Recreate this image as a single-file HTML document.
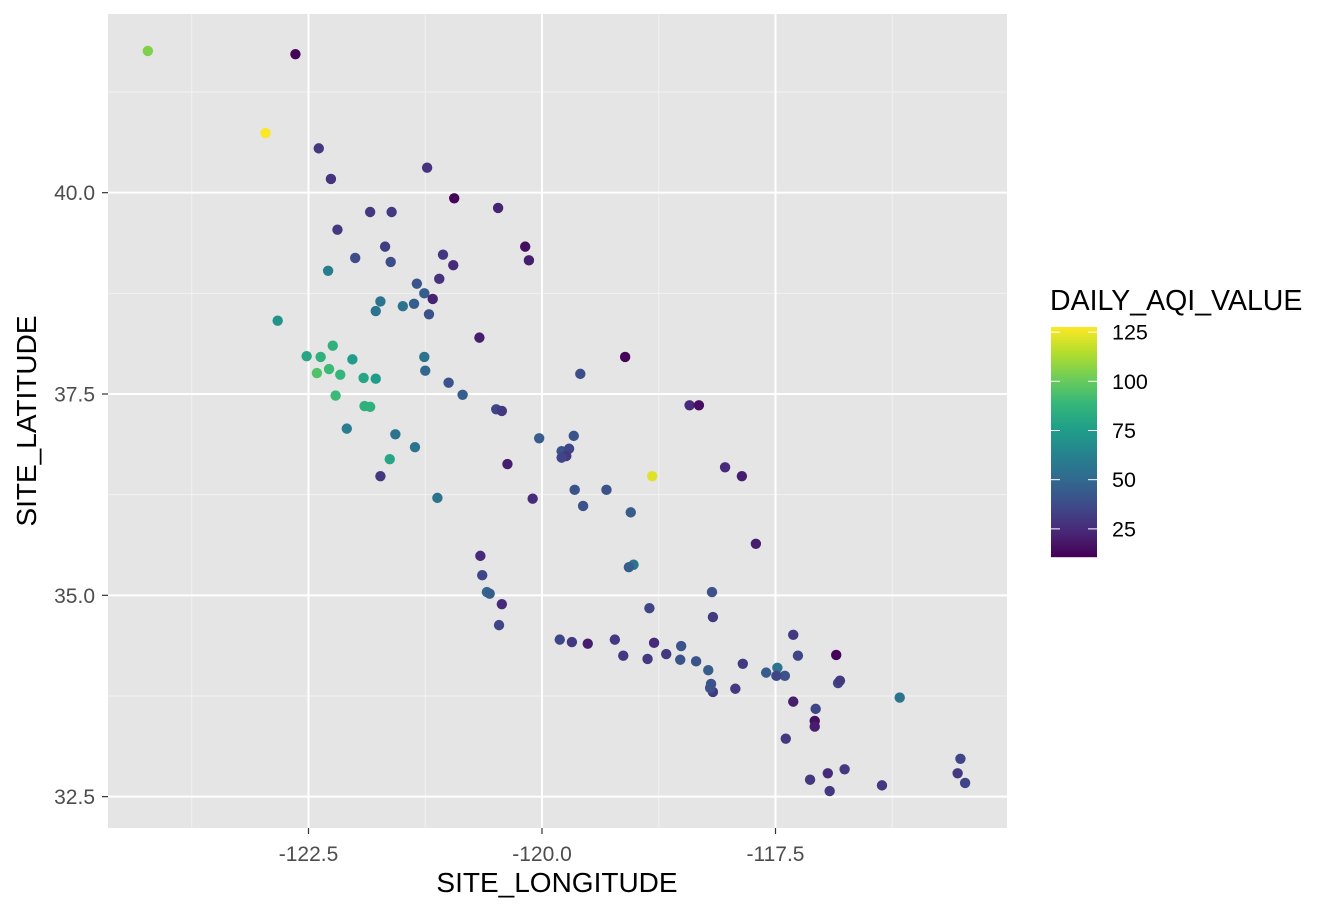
<!DOCTYPE html>
<html><head><meta charset="utf-8"><style>
body{margin:0;background:#fff;}
svg text{font-family:"Liberation Sans",Arial,sans-serif;}
</style></head><body>
<svg id="chart" width="1344" height="912" xmlns="http://www.w3.org/2000/svg">
<rect x="108" y="14" width="899" height="814" fill="#e5e5e5"/>
<g id="grid"></g><g id="pts"></g><g id="axes"></g><g id="legend"></g>
</svg>
<script>
const lon=[-124.22,-122.64,-122.96,-122.39,-122.26,-121.23,-120.94,-120.47,-121.84,-121.61,-122.19,-120.18,-120.14,-121.68,-122.00,-121.62,-121.06,-120.95,-122.29,-121.10,-121.34,-121.26,-121.17,-121.73,-121.49,-121.37,-121.78,-121.21,-122.83,-120.67,-122.24,-122.52,-122.37,-122.03,-121.26,-122.28,-122.41,-122.16,-121.91,-121.78,-121.00,-120.85,-122.21,-121.90,-121.84,-121.25,-119.11,-119.59,-118.42,-118.32,-120.49,-120.43,-122.09,-121.57,-120.03,-119.66,-121.36,-121.63,-121.73,-120.37,-119.79,-119.71,-119.74,-119.79,-118.04,-117.86,-118.82,-119.65,-119.31,-121.12,-120.10,-119.56,-119.05,-117.71,-120.66,-120.64,-120.59,-120.56,-120.43,-119.02,-119.07,-118.18,-118.85,-118.17,-120.46,-117.31,-116.85,-119.81,-119.68,-119.51,-119.22,-118.80,-118.51,-119.13,-118.67,-118.87,-118.52,-118.35,-117.26,-117.85,-117.48,-117.60,-117.40,-117.49,-118.22,-118.19,-118.17,-117.93,-118.20,-116.83,-116.81,-116.17,-117.31,-117.07,-117.08,-117.08,-117.39,-115.52,-116.76,-116.94,-115.55,-117.13,-116.36,-115.47,-116.92];
const lat=[41.76,41.72,40.74,40.55,40.17,40.31,39.93,39.81,39.76,39.76,39.54,39.33,39.16,39.33,39.19,39.14,39.23,39.10,39.03,38.93,38.87,38.75,38.68,38.65,38.59,38.62,38.53,38.49,38.41,38.20,38.10,37.97,37.96,37.93,37.96,37.81,37.76,37.74,37.70,37.69,37.64,37.49,37.48,37.35,37.34,37.79,37.96,37.75,37.36,37.36,37.31,37.29,37.07,37.00,36.95,36.98,36.84,36.69,36.48,36.63,36.79,36.82,36.73,36.71,36.59,36.48,36.48,36.31,36.31,36.21,36.20,36.11,36.03,35.64,35.49,35.25,35.04,35.02,34.89,35.38,35.35,35.04,34.84,34.73,34.63,34.51,34.26,34.45,34.42,34.40,34.45,34.41,34.37,34.25,34.27,34.21,34.20,34.18,34.25,34.15,34.10,34.04,34.00,34.00,34.07,33.90,33.80,33.84,33.85,33.91,33.94,33.73,33.68,33.59,33.44,33.37,33.22,32.97,32.84,32.79,32.79,32.71,32.64,32.67,32.57];
const aqi=[105,12,127,30,28,28,12,22,30,30,30,15,20,32,38,38,30,25,60,28,40,45,22,55,55,45,55,40,70,20,85,80,85,75,55,90,95,88,80,75,40,45,90,85,85,50,12,38,25,15,35,30,60,55,45,40,55,80,30,20,40,35,30,35,25,20,122,40,40,55,25,40,45,20,25,35,50,45,25,55,45,40,35,30,35,30,12,35,30,20,30,25,40,30,30,30,40,40,35,30,55,45,40,35,45,40,30,30,40,35,30,55,20,35,15,20,30,35,30,25,30,30,30,35,30];
const xTicks=[-122.5,-120.0,-117.5];
const xMinor=[-123.75,-121.25,-118.75,-116.25];
const yTicks=[32.5,35.0,37.5,40.0];
const yMinor=[33.75,36.25,38.75,41.25];
const legendTicks=[25,50,75,100,125];

const NS="http://www.w3.org/2000/svg";
const X=v=>542+(v+120)*93.4;
const Y=v=>394-(v-37.5)*80.53;
const cMin=10.7,cMax=127.6;
const L=v=>557-(v-cMin)/(cMax-cMin)*230;
const vir=[[68,1,84],[72,40,120],[62,74,137],[49,104,142],[38,130,142],[31,158,137],[53,183,121],[109,205,89],[180,222,44],[253,231,37]];
function col(v){let t=Math.max(0,Math.min(1,(v-cMin)/(cMax-cMin)))*(vir.length-1);let i=Math.min(Math.floor(t),vir.length-2),f=t-i;const a=vir[i],b=vir[i+1];return `rgb(${a.map((c,k)=>Math.round(c+(b[k]-c)*f)).join(',')})`;}
function mk(tag,at,parent){const e=document.createElementNS(NS,tag);for(const k in at)e.setAttribute(k,at[k]);parent.appendChild(e);return e;}
const grid=document.getElementById('grid'),pts=document.getElementById('pts'),axes=document.getElementById('axes'),leg=document.getElementById('legend');
xMinor.forEach(v=>{const e=mk('line',{x1:X(v),x2:X(v),y1:14,y2:828,stroke:'#f2f2f2','stroke-width':1},grid);

});
yMinor.forEach(v=>{const e=mk('line',{x1:108,x2:1007,y1:Y(v),y2:Y(v),stroke:'#f2f2f2','stroke-width':1},grid);

});
xTicks.forEach(v=>{const e=mk('line',{x1:X(v),x2:X(v),y1:14,y2:828,stroke:'#fff','stroke-width':2},grid);


const t=mk('line',{x1:X(v),x2:X(v),y1:828,y2:834,stroke:'#333','stroke-width':1.2},axes);


const l=mk('text',{x:X(v),y:861,'text-anchor':'middle','font-size':21,fill:'#4d4d4d'},axes);l.textContent=v.toFixed(1);

});
yTicks.forEach(v=>{const e=mk('line',{x1:108,x2:1007,y1:Y(v),y2:Y(v),stroke:'#fff','stroke-width':2},grid);


const t=mk('line',{x1:102,x2:108,y1:Y(v),y2:Y(v),stroke:'#333','stroke-width':1.2},axes);


const l=mk('text',{x:95,y:Y(v)+7.5,'text-anchor':'end','font-size':21,fill:'#4d4d4d'},axes);l.textContent=v.toFixed(1);

});
lon.forEach((v,i)=>{const c=mk('circle',{cx:X(v),cy:Y(lat[i]),r:5.2,fill:col(aqi[i])},pts);

});
let t=mk('text',{x:557,y:892,'text-anchor':'middle','font-size':28,fill:'#000'},axes);t.textContent='SITE_LONGITUDE';


t=mk('text',{x:0,y:0,'text-anchor':'middle','font-size':28,fill:'#000',transform:'translate(36,421) rotate(-90)'},axes);t.textContent='SITE_LATITUDE';


t=mk('text',{x:1050,y:310,'font-size':28.5,fill:'#000'},leg);t.textContent='DAILY_AQI_VALUE';


for(let y=327;y<557;y++){const v=cMin+(557-y-0.5)/230*(cMax-cMin);mk('rect',{x:1051,y:y,width:46,height:1.2,fill:col(v)},leg);}
legendTicks.forEach(v=>{const a=mk('line',{x1:1051,x2:1060,y1:L(v),y2:L(v),stroke:'#fff','stroke-width':1},leg);


mk('line',{x1:1088,x2:1097,y1:L(v),y2:L(v),stroke:'#fff','stroke-width':1},leg);
const l=mk('text',{x:1112,y:L(v)+7.5,'font-size':21.5,fill:'#000'},leg);l.textContent=v;

});
</script>
</body></html>
